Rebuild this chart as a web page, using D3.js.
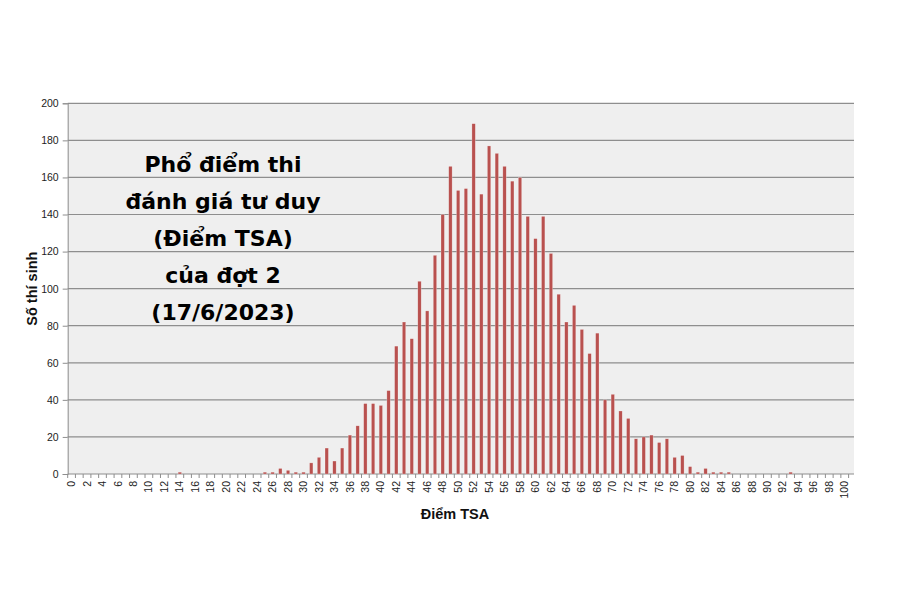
<!DOCTYPE html>
<html><head><meta charset="utf-8">
<script src="https://cdn.jsdelivr.net/npm/d3@7"></script>
<style>body{margin:0;background:#fff}svg{display:block}</style>
</head><body><svg id="c" width="900" height="591"></svg>
<script>
const categories = d3.range(0, 101);
const counts = [
 0,0,0,0,0,0,0,0,0,0, 0,0,0,0,1,0,0,0,0,0,
 0,0,0,0,0,1,1,3,2,1, 1,6,9,14,7,14,21,26,38,38,
 37,45,69,82,73,104,88,118,140,166, 153,154,189,151,177,173,166,158,160,139,
 127,139,119,97,82,91,78,65,76,40, 43,34,30,19,20,21,17,19,9,10,
 4,1,3,1,1,1,0,0,0,0, 0,0,0,1,0,0,0,0,0,0, 0];
const yTicks = [0,20,40,60,80,100,120,140,160,180,200];
const xTickLabels = d3.range(0, 101, 2);
const titleLines = ["Phổ điểm thi","đánh giá tư duy","(Điểm TSA)","của đợt 2","(17/6/2023)"];
const yTitle = "Số thí sinh";
const xTitle = "Điểm TSA";

const svg = d3.select("#c");
const L = 67.7, R = 848.6, T = 103.3, B = 474, BGR = 854;
const x = d3.scaleBand().domain(categories).range([L, R]).padding(0);
const y = d3.scaleLinear().domain([0, 200]).range([B, T]);

svg.append("rect").attr("x", L).attr("y", T).attr("width", BGR - L).attr("height", B - T).attr("fill", "#efefef");

// gridlines
svg.append("g").selectAll("line").data(yTicks.filter(d => d > 0)).join("line")
  .attr("x1", L).attr("x2", BGR).attr("y1", d => y(d)).attr("y2", d => y(d))
  .attr("stroke", "#8e8e8e").attr("stroke-width", 1.2);

// y axis
const ya = svg.append("g").attr("transform", `translate(${L},0)`)
  .call(d3.axisLeft(y).tickValues(yTicks).tickSize(5).tickPadding(4));
ya.select(".domain").attr("stroke", "#8e8e8e");
ya.selectAll(".tick line").attr("stroke", "#8e8e8e");
ya.selectAll("text").attr("font-family", "Liberation Sans, Arial, sans-serif").attr("font-size", 10.5).attr("fill", "#222");

// x axis ticks at category boundaries
svg.append("g").selectAll("line").data(d3.range(0, 102)).join("line")
  .attr("x1", i => L + i * x.bandwidth()).attr("x2", i => L + i * x.bandwidth())
  .attr("y1", B).attr("y2", B + 4).attr("stroke", "#8e8e8e");
svg.append("line").attr("x1", L).attr("x2", BGR).attr("y1", B).attr("y2", B).attr("stroke", "#8e8e8e").attr("stroke-width", 1.2);

svg.append("g").selectAll("text").data(xTickLabels).join("text")
  .attr("transform", d => `translate(${x(d) + x.bandwidth() / 2 + 3.6},${B + 7}) rotate(-90)`)
  .attr("text-anchor", "end")
  .attr("font-family", "Liberation Sans, Arial, sans-serif").attr("font-size", 10.5).attr("fill", "#222")
  .text(d => d);

// bars
const bw = 3.4;
svg.append("g").selectAll("rect").data(categories.map((c, i) => ({c, v: counts[i]})).filter(d => d.v > 0)).join("rect")
  .attr("x", d => x(d.c) + x.bandwidth() / 2 - bw / 2)
  .attr("y", d => y(d.v))
  .attr("width", bw)
  .attr("height", d => B - y(d.v))
  .attr("fill", "#b9514f")
  .attr("stroke", "#ffffff").attr("stroke-opacity", 0.5).attr("stroke-width", 0.5);

// axis titles
svg.append("text").attr("transform", `translate(37,${(T + B) / 2}) rotate(-90)`)
  .attr("text-anchor", "middle").attr("font-family", "Liberation Sans, Arial, sans-serif")
  .attr("font-weight", "bold").attr("font-size", 14.5).attr("fill", "#111").text(yTitle);
svg.append("text").attr("x", 455).attr("y", 519)
  .attr("text-anchor", "middle").attr("font-family", "Liberation Sans, Arial, sans-serif")
  .attr("font-weight", "bold").attr("font-size", 14.5).attr("fill", "#111").text(xTitle);

// overlay title
svg.append("g").selectAll("text").data(titleLines).join("text")
  .attr("x", 223).attr("y", (d, i) => 172 + i * 37)
  .attr("text-anchor", "middle")
  .attr("font-family", "'DejaVu Sans', sans-serif").attr("font-weight", "bold")
  .attr("font-size", 22).attr("fill", "#000")
  .text(d => d);
</script></body></html>
